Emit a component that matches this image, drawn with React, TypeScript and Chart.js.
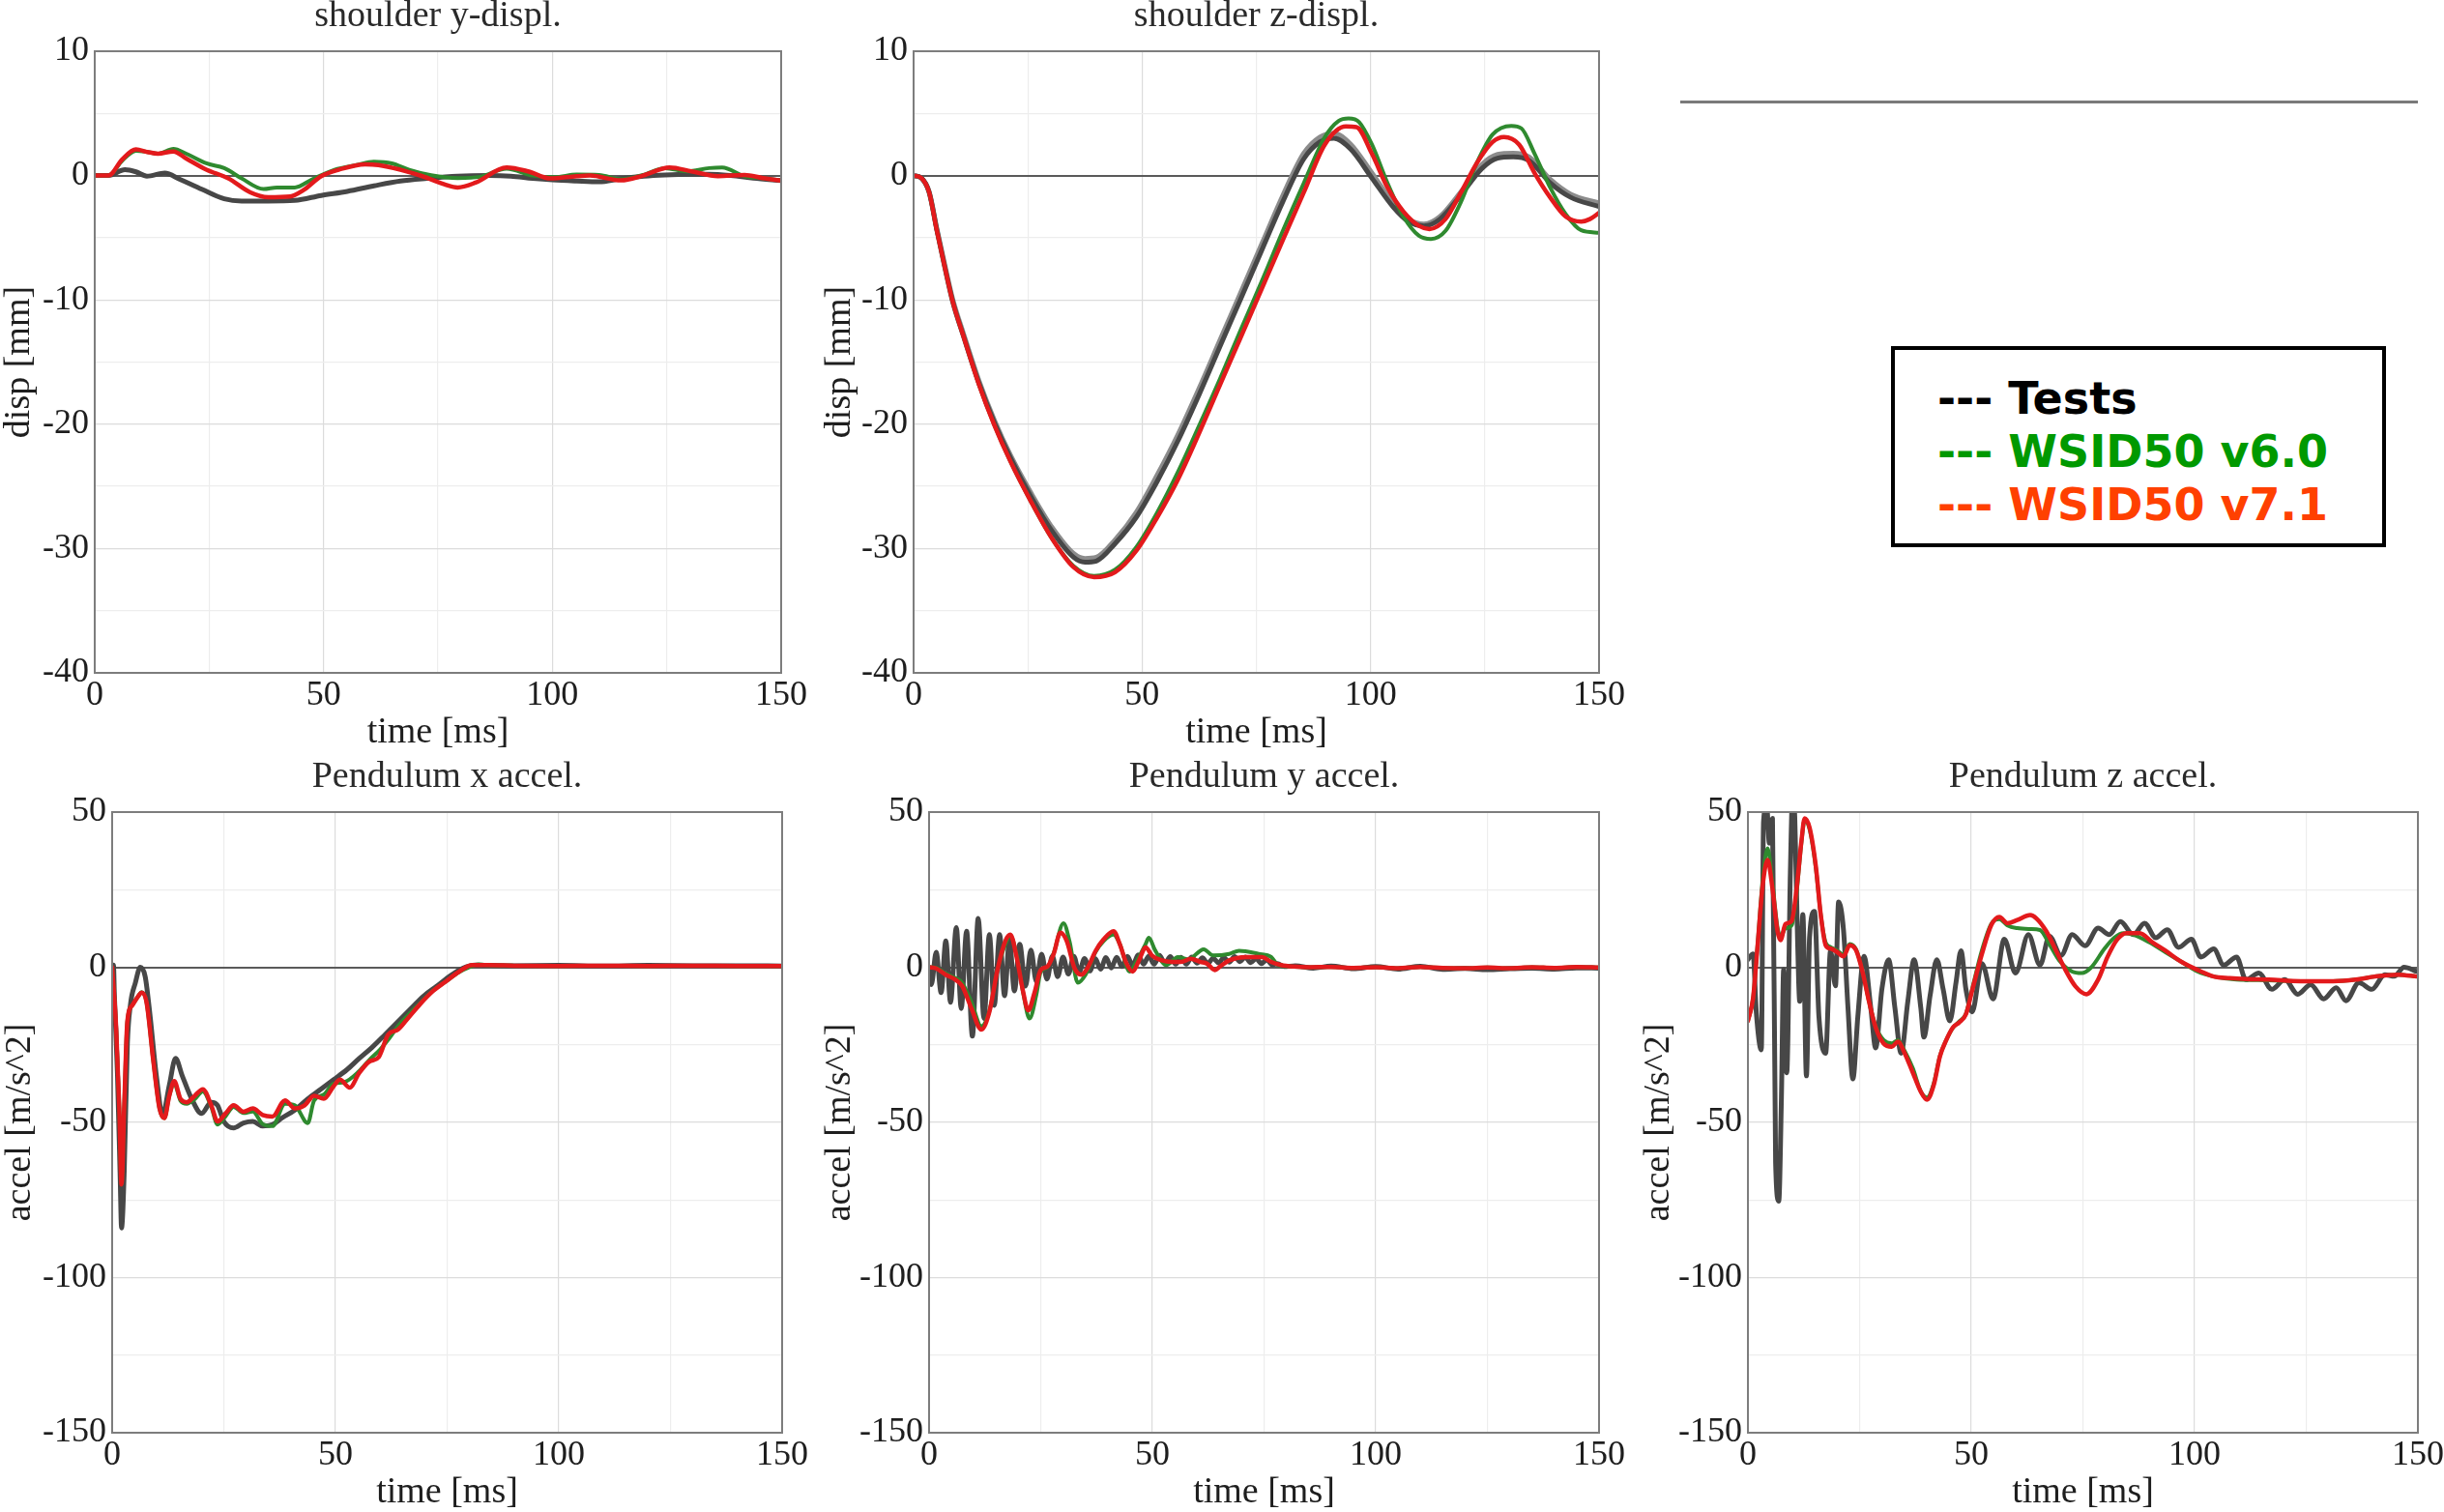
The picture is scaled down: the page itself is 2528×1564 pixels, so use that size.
import React, { useEffect, useRef } from 'react';
import { Chart, registerables } from 'chart.js';

Chart.register(...registerables);

type Pt = [number, number];

// ---------- axis / label data ----------
const X_MIN = 0;
const X_MAX = 150;
const X_STEP = 25;
const X_LABEL_STEP = 50;
const X_TITLE = 'time [ms]';

const LEGEND_LABELS = ['Tests', 'WSID50 v6.0', 'WSID50 v7.1'];
const LEGEND_COLORS = ['#000000', '#009900', '#ff4000'];

// ---------- shoulder y-displ. ----------
const P1_TESTS: Pt[] = [[0,0],[3,0],[6.6,0.47],[9,0.3],[11.4,-0.05],[15.3,0.2],[18.6,-0.3],[23.4,-1.1],[28.3,-1.87],[32.1,-2.05],[37.9,-2.05],[43.7,-2.0],[49.5,-1.6],[55.2,-1.27],[61,-0.83],[66.8,-0.44],[72.6,-0.23],[79.3,-0.05],[86,0],[90.9,-0.05],[95.7,-0.23],[100,-0.35],[105.3,-0.44],[110.2,-0.5],[115,-0.25],[120,-0.05],[124.6,0.05],[130,0.1],[134.3,0.1],[139,0],[143.9,-0.2],[150,-0.4]];
const P1_V60: Pt[] = [[0,0],[3,0],[6,1.2],[9,2.0],[11.5,1.9],[13.8,1.76],[17.2,2.15],[20,1.76],[24.4,0.98],[28.3,0.6],[32.1,-0.23],[36.9,-1.09],[39.8,-0.96],[43.7,-0.96],[47.5,-0.31],[52.4,0.47],[57.2,0.85],[61,1.11],[64.9,0.98],[68.7,0.47],[73.5,0.03],[79.3,-0.2],[84.2,-0.1],[90,0.55],[95.7,0],[100.5,-0.13],[105.3,0.08],[110.2,0.05],[115,-0.3],[119.8,0.05],[124.6,0.6],[129.4,0.34],[134.3,0.6],[137.1,0.65],[142,-0.05],[146,-0.2],[150,-0.4]];
const P1_V71: Pt[] = [[0,0],[3,0],[6,1.3],[9,2.1],[11.5,1.9],[13.8,1.76],[17.2,1.94],[20,1.37],[24.4,0.47],[29.2,-0.23],[34,-1.35],[37.9,-1.74],[42.7,-1.68],[45.6,-1.17],[49.5,-0.05],[53.3,0.47],[59.1,0.91],[62,0.85],[66.8,0.47],[71.6,-0.05],[76.4,-0.7],[79.3,-0.96],[83.2,-0.57],[90,0.65],[94.7,0.34],[99.6,-0.23],[105.3,-0.05],[108.2,0],[115,-0.39],[119.8,0],[125.6,0.65],[130.4,0.34],[136.2,-0.05],[142,0.05],[146,-0.2],[150,-0.4]];

// ---------- shoulder z-displ. ----------
const P2_TEST_A: Pt[] = [[0,0],[1.7,-0.2],[3.4,-1.35],[5.1,-4.4],[6.9,-7.5],[8.6,-10.2],[10.9,-12.9],[14.3,-16.7],[17.7,-19.9],[21.2,-22.7],[25.8,-25.9],[30.3,-28.6],[35,-30.7],[37.5,-31.1],[40,-31.0],[44.1,-29.6],[48.7,-27.5],[53.3,-24.6],[57.9,-21.3],[62.5,-17.6],[67.1,-13.7],[71.6,-9.9],[76.2,-6.0],[80.8,-2.1],[85.4,1.35],[88.9,2.7],[92,3.0],[95.7,2.1],[100.3,-0.2],[104.9,-2.5],[108.3,-3.7],[111.7,-4.05],[115.2,-3.5],[119.8,-1.55],[124.4,0.58],[127.8,1.4],[131.2,1.5],[134.7,1.2],[139.3,-0.58],[143.8,-1.75],[150,-2.5]];
const P2_TEST_B: Pt[] = [[0,0],[1.7,-0.2],[3.4,-1.3],[5.1,-4.3],[6.9,-7.3],[8.6,-10.0],[10.9,-12.7],[14.3,-16.5],[17.7,-19.7],[21.2,-22.5],[25.8,-25.6],[30.3,-28.3],[35,-30.4],[37.5,-30.8],[40,-30.7],[44.1,-29.3],[48.7,-27.1],[53.3,-24.1],[57.9,-20.8],[62.5,-17.1],[67.1,-13.2],[71.6,-9.4],[76.2,-5.5],[80.8,-1.6],[85.4,1.8],[88.9,3.1],[92,3.4],[95.7,2.5],[100.3,0.2],[104.9,-2.2],[108.3,-3.5],[111.7,-3.9],[115.2,-3.3],[119.8,-1.3],[124.4,0.9],[127.8,1.7],[131.2,1.8],[134.7,1.5],[139.3,-0.3],[143.8,-1.5],[150,-2.2]];
const P2_V60: Pt[] = [[0,0],[1.7,-0.2],[3.4,-1.35],[5.1,-4.45],[6.9,-7.5],[8.6,-10.2],[10.9,-12.9],[14.3,-16.8],[17.7,-20.1],[21.2,-23.0],[25.8,-26.3],[30.3,-29.2],[35,-31.4],[39.5,-32.2],[44.1,-31.7],[48.7,-29.9],[53.3,-27.1],[57.9,-23.8],[62.5,-20.1],[67.1,-16.3],[71.6,-12.4],[76.2,-8.5],[80.8,-4.45],[85.4,-0.6],[90,3.1],[93,4.4],[95.2,4.6],[97.5,4.3],[100.3,2.5],[103.7,-0.6],[107.2,-3.3],[110.6,-4.85],[113.2,-5.1],[116.4,-4.45],[119.8,-2.1],[123.2,0.97],[126.7,3.3],[130.8,4.0],[133,3.8],[135.9,1.75],[139.3,-0.96],[142.7,-3.1],[146.1,-4.4],[150,-4.6]];
const P2_V71: Pt[] = [[0,0],[1.7,-0.2],[3.4,-1.35],[5.1,-4.45],[6.9,-7.5],[8.6,-10.2],[10.9,-12.9],[14.3,-16.8],[17.7,-20.1],[21.2,-23.0],[25.8,-26.3],[30.3,-29.2],[35,-31.5],[39.5,-32.3],[44.1,-31.9],[48.7,-30.2],[53.3,-27.5],[57.9,-24.4],[62.5,-20.7],[67.1,-16.8],[71.6,-13],[76.2,-9.1],[80.8,-5.2],[85.4,-1.35],[90,2.5],[94.6,3.95],[96.9,3.9],[100.3,1.75],[103.7,-0.96],[107.2,-2.9],[110.6,-4.05],[112.9,-4.3],[116.4,-3.5],[119.8,-1.35],[123.2,0.97],[126.7,2.7],[129.2,3.1],[132.5,2.5],[135.9,0.2],[139.3,-1.75],[142.7,-3.3],[146.1,-3.7],[148,-3.5],[150,-3.0]];

// ---------- Pendulum x accel. ----------
const P4_TESTS: Pt[] = [[0,0],[0.3,0.7],[0.5,-9],[1.2,-35],[1.8,-68],[2.1,-84],[2.7,-66],[3.4,-25],[4.1,-12],[5.2,-5],[6.3,0],[7.4,-3],[8.4,-14.4],[9.9,-35],[11.3,-47.6],[12.8,-38],[14.2,-29.4],[15.7,-35],[17.8,-42.4],[20.0,-47.1],[22.2,-43.5],[23.6,-44.5],[25.0,-49.7],[27.2,-51.8],[29.4,-50.2],[31.5,-49.7],[33.7,-51.2],[35.9,-50.7],[38.0,-48.6],[40.9,-46.0],[43.8,-42.4],[46.7,-39.3],[49.6,-36.2],[52.5,-33.1],[55.3,-29.4],[58.2,-25.8],[61.1,-21.7],[64.0,-17.5],[66.9,-13.3],[69.8,-9.2],[72.7,-6.1],[75.5,-3.0],[78.4,-0.4],[81.3,0.7],[85,0.6],[90,0.5],[100,0.6],[110,0.4],[120,0.6],[130,0.5],[140,0.5],[150,0.4]];
const P4_V60: Pt[] = [[0,0],[0.9,-19.6],[1.6,-45.5],[2.1,-70],[2.7,-45],[3.4,-17.5],[4.5,-12.3],[5.9,-9.2],[6.6,-8.0],[7.7,-11.3],[9.2,-30],[10.6,-45.5],[11.7,-48.6],[12.8,-41.4],[13.9,-37.5],[15.3,-43],[16.7,-44],[18.5,-42.5],[20.3,-40],[22.2,-45],[23.6,-50.7],[25.4,-48],[27.2,-45],[29.4,-47],[31.5,-46.5],[33.7,-50.5],[35.9,-51.2],[38.7,-44],[40.9,-44.5],[43.8,-50.2],[45.2,-43],[47.4,-41],[49.6,-37.5],[52,-37],[55.3,-33.5],[57.5,-30],[60,-26.5],[62,-23],[64,-19],[66.2,-15.5],[69,-11.5],[71.9,-7.5],[74.8,-4.5],[77.7,-1.6],[80,0],[82,0.9],[84.2,0.7],[90,0.5],[100,0.4],[110,0.5],[120,0.4],[130,0.5],[140,0.4],[150,0.4]];
const P4_V71: Pt[] = [[0,0],[0.9,-19.6],[1.6,-45.5],[2.1,-70],[2.7,-45],[3.4,-17.5],[4.5,-12.3],[5.9,-9.2],[6.6,-8.2],[7.7,-11.3],[9.2,-30],[10.6,-45.5],[11.7,-48.6],[12.8,-41.4],[13.9,-36.7],[15.3,-42.4],[16.7,-43.5],[18.5,-41.4],[20.3,-39.3],[22.2,-44.5],[23.6,-49.7],[25.4,-47.1],[27.2,-44.5],[29.4,-46.6],[31.5,-45.5],[33.7,-47.6],[35.9,-48.1],[38.7,-42.9],[40.9,-45.5],[43.1,-44.5],[45.2,-41.4],[47.4,-42.4],[49.6,-38.3],[51.0,-36.2],[53.2,-38.8],[55.3,-34.1],[57.5,-30.5],[59.7,-28.9],[61.8,-21.7],[64.0,-20.1],[66.2,-16.5],[69.0,-11.8],[71.9,-7.6],[74.8,-4.5],[77.7,-1.4],[80.6,0.7],[84.2,0.7],[90,0.5],[100,0.4],[110,0.5],[120,0.4],[130,0.5],[140,0.4],[150,0.4]];

// ---------- Pendulum y accel. ----------
const P5_TESTS: Pt[] = [[0,0],[0.5,-5.6],[1.6,4.8],[2.7,-8.2],[3.75,8.5],[4.8,-11.3],[6.1,12.8],[7.2,-13.3],[8.4,11.6],[9.7,-22.2],[11.0,15.7],[12.3,-16.5],[13.5,10.5],[14.6,-12.3],[15.8,10.5],[16.9,-9.2],[18.0,9.0],[19.1,-7.6],[20.3,7.4],[21.6,-6.1],[22.8,5.5],[24.0,-4.5],[25.2,4.2],[26.4,-3.8],[27.6,3.6],[28.8,-3.0],[30.0,3.3],[31.2,-2.2],[32.4,3.5],[33.6,-1.6],[34.8,2.8],[36.0,-1.2],[37.2,2.8],[38.4,-0.6],[39.6,3.1],[40.8,-0.2],[42.0,3.2],[43.2,0.2],[44.4,3.5],[45.6,0.5],[46.8,4.0],[48.0,1.0],[49.2,3.6],[50.4,1.0],[51.6,3.8],[52.8,1.2],[54.0,3.4],[55.2,1.0],[56.4,3.2],[57.6,1.0],[58.8,3.3],[60.0,1.3],[61.2,3.0],[62.4,1.2],[63.6,2.9],[64.8,1.4],[66.0,3.1],[67.2,1.6],[68.4,3.4],[69.6,1.8],[70.8,3.3],[72.0,1.5],[73.2,2.8],[74.4,1.2],[75.6,2.4],[76.8,0.8],[78,1.2],[79.5,0.2],[82,0.5],[86,-0.3],[90,0.4],[95,-0.5],[100,0.2],[105,-0.6],[110,0.3],[115,-0.7],[120,-0.4],[125,-0.8],[130,-0.5],[135,-0.3],[140,-0.6],[145,-0.2],[150,-0.3]];
const P5_V60: Pt[] = [[0,0],[1.6,-0.2],[3.75,-2],[5.9,-3.5],[7.4,-5],[9.5,-11.3],[11.7,-19],[13.5,-14],[15.3,-1],[17.1,7.5],[18.2,10],[19.6,4],[21.1,-8.5],[22.5,-16.5],[24,-9],[25.0,-1.5],[26.5,0],[27.9,4.5],[30.1,14.2],[31.5,8],[33.3,-5],[35.0,-2.5],[37.3,5],[39.1,8.5],[41.3,10.5],[42.7,7.5],[44.9,-1.4],[46.3,1.5],[48.5,7.5],[49.2,9.5],[50.6,5.5],[53.1,0.7],[55.7,3.3],[58,2.5],[61.5,5.8],[63.6,3.8],[67.2,4.3],[69.4,5.3],[73.8,4.3],[76.6,3.3],[78.1,0.7],[80,0.3],[85,0],[90,0.1],[95,-0.2],[100,0],[105,-0.3],[110,0.1],[115,-0.2],[120,-0.3],[125,-0.1],[130,-0.3],[135,0],[140,-0.2],[145,0.1],[150,-0.1]];
const P5_V71: Pt[] = [[0,0],[1.6,-0.4],[3.75,-2.4],[5.9,-4],[7.4,-6],[9.5,-13.3],[11.7,-20.1],[13.5,-14.4],[15.3,-0.9],[17.1,8.5],[18.2,10.5],[19.6,3.3],[21.1,-8.2],[22.2,-13.9],[23.6,-8.2],[25.0,-0.9],[26.5,0.2],[27.9,4.3],[29.4,11.1],[30.8,8.5],[32.6,-0.4],[34.1,-2.4],[35.5,-0.2],[37.3,5.3],[39.1,9.0],[41.3,11.6],[42.7,7.4],[44.2,1.2],[45.6,-1.4],[47.0,2.2],[48.5,6.4],[49.9,3.8],[52.1,2.2],[54.3,1.7],[56.4,1.7],[58.6,2.7],[60.8,1.7],[62.2,1.2],[64.0,-0.9],[65.1,0.2],[67.2,2.2],[70.9,3.3],[74.5,3.3],[76.6,1.7],[78.8,0.7],[81.7,0.2],[85.3,0],[90,0.1],[95,-0.2],[100,0],[105,-0.3],[110,0.1],[115,-0.2],[120,-0.3],[125,-0.1],[130,-0.3],[135,0],[140,-0.2],[145,0.1],[150,-0.1]];

// ---------- Pendulum z accel. ----------
const P6_TESTS: Pt[] = [[0,2.5],[1.15,4.3],[1.9,-15],[3.0,-26.6],[3.5,47],[4.2,52],[4.8,40],[5.5,48],[6.2,-63],[6.9,-75.4],[7.5,-42],[8.0,-0.7],[8.7,-34],[9.5,30.5],[10.0,55],[10.5,48],[11.1,9.7],[11.6,-11],[12.3,17],[13.1,-35],[13.8,9.7],[14.9,18],[15.9,-16],[17.4,-27.7],[18.5,5.3],[19.6,-6],[20.3,21],[21.4,12],[22.4,-13],[23.5,-36],[24.6,-16],[26.0,3.5],[27.5,-13],[28.6,-26],[30.0,-7],[31.5,2.4],[32.9,-13],[34.3,-27.7],[35.8,-11],[37.2,2.4],[38.7,-13],[39.4,-22.5],[40.8,-9],[42.3,2.4],[43.7,-7],[45.2,-17.3],[46.6,-4.8],[47.7,5.3],[48.8,-7],[50.2,-14.4],[52.4,1.2],[54.9,-10.2],[57.4,9],[59.9,-1.9],[62.8,10.5],[65.4,0.7],[67.5,10],[70.1,3.8],[72.6,10.5],[75.5,6.9],[78.4,12.6],[80.9,10.5],[83.4,14.7],[86.3,10.5],[88.8,14.2],[91.3,9.5],[93.9,12.1],[96.4,6.4],[99.3,9],[101.4,3.3],[104.3,5.9],[106.5,0.7],[109.4,3.3],[111.5,-4],[114.4,-1.9],[117.3,-7.1],[120.2,-4],[123.1,-8.7],[126,-5.6],[128.9,-10.2],[131.7,-6.6],[133.9,-10.8],[136.8,-5],[139.7,-7.1],[142.6,-2.4],[144.7,-2.9],[146.9,0],[149.8,-1.4]];
const P6_V60: Pt[] = [[0,-17.3],[1.15,-10],[2.2,8],[3.3,28],[4.4,38.3],[5.5,27],[6.6,13],[7.3,10],[8.4,12.5],[9.8,13.5],[10.9,24],[12.0,40.5],[12.7,47.5],[13.8,44.5],[15.2,32],[16.3,17],[17.4,8],[18.5,6.5],[19.9,5.5],[21.4,4],[22.8,7.5],[24.2,5.8],[25.7,-1.5],[27.1,-11],[28.6,-19],[30.4,-23.5],[32.2,-24.5],[33.6,-23.5],[35.1,-27],[36.9,-32.5],[38.7,-40],[40.1,-42],[41.6,-37.5],[43.0,-28.5],[44.4,-23.5],[45.9,-19.5],[47.3,-17.5],[48.8,-15],[50.2,-7],[52.4,5.5],[54.5,14],[56.3,15.5],[58.1,13.5],[60.3,12.6],[63.2,12.3],[65.4,12],[67.5,7.4],[69.7,2.2],[72.6,-1.4],[74.7,-1.9],[76.9,0],[79.8,5.9],[82,9.5],[84.1,11],[86.3,10.5],[89.9,8],[93.5,4.8],[97.1,1.7],[100.7,-1.4],[104.3,-3],[109.4,-4],[116.6,-4.2],[123.8,-4.5],[131,-4.5],[136.1,-4],[140.4,-3],[145.5,-2.4],[149.8,-3]];
const P6_V71: Pt[] = [[0,-17.3],[1.15,-10],[2.2,7.6],[3.3,26.3],[4.4,34.6],[5.5,25.3],[6.6,11.8],[7.3,8.7],[8.4,13.9],[9.8,14.9],[10.9,25.3],[12.0,40.9],[12.7,48],[13.8,45],[15.2,32.6],[16.3,17],[17.4,7.1],[18.5,6],[19.9,5],[21.4,3.5],[22.8,7.1],[24.2,5.5],[25.7,-1.7],[27.1,-11],[28.6,-19.4],[30.4,-24.6],[32.2,-25.6],[33.6,-24],[35.1,-27.7],[36.9,-33.9],[38.7,-40.1],[40.1,-42.7],[41.6,-38],[43.0,-28.7],[44.4,-23.5],[45.9,-19.4],[47.3,-17.8],[48.8,-15.2],[50.2,-7.5],[52.4,4.3],[54.5,13.6],[56.3,16.2],[58.1,14.2],[60.3,15.2],[63.2,16.8],[64.6,15.7],[66.8,11.6],[69,5.3],[71.1,-0.9],[73.3,-6.1],[75.8,-8.7],[78.4,-4],[80.5,3.3],[82.7,9],[84.8,11],[87.7,11],[90.6,8],[93.5,5.3],[97.1,1.7],[100.7,-0.9],[104.3,-3],[107.9,-3.5],[111.5,-3.8],[116.6,-4],[123.8,-4.5],[131,-4.5],[136.1,-4],[140.4,-3],[145.5,-2.4],[149.8,-3]];

// ---------- styling / layout (not data) ----------
const SERIF = '"Liberation Serif", "Times New Roman", serif';
const COL_TEST = '#474747';
const COL_TEST_LIGHT = '#8c8c8c';
const COL_V60 = '#2f8a2f';
const COL_V71 = '#e31a1c';
const TITLE_H = 55;
const XAXIS_H = 81;
const RIGHT_PAD = 32;

interface PanelSpec {
  title: string;
  yTitle: string;
  yMin: number;
  yMax: number;
  yStep: number;
  yLabelStep: number;
  tests: Pt[][];
  v60: Pt[];
  v71: Pt[];
  plot: { l: number; t: number; r: number; b: number };
  canvasLeft: number;
  yTitlePad: number;
}

const PANELS: PanelSpec[] = [
  { title: 'shoulder y-displ.', yTitle: 'disp [mm]', yMin: -40, yMax: 10, yStep: 5, yLabelStep: 10,
    tests: [P1_TESTS], v60: P1_V60, v71: P1_V71,
    plot: { l: 98, t: 53, r: 808, b: 696 }, canvasLeft: 0, yTitlePad: 1 },
  { title: 'shoulder z-displ.', yTitle: 'disp [mm]', yMin: -40, yMax: 10, yStep: 5, yLabelStep: 10,
    tests: [P2_TEST_A, P2_TEST_B], v60: P2_V60, v71: P2_V71,
    plot: { l: 945, t: 53, r: 1654, b: 696 }, canvasLeft: 850, yTitlePad: 0 },
  { title: 'Pendulum x accel.', yTitle: 'accel [m/s^2]', yMin: -150, yMax: 50, yStep: 25, yLabelStep: 50,
    tests: [P4_TESTS], v60: P4_V60, v71: P4_V71,
    plot: { l: 116, t: 840, r: 809, b: 1482 }, canvasLeft: 0, yTitlePad: 2 },
  { title: 'Pendulum y accel.', yTitle: 'accel [m/s^2]', yMin: -150, yMax: 50, yStep: 25, yLabelStep: 50,
    tests: [P5_TESTS], v60: P5_V60, v71: P5_V71,
    plot: { l: 961, t: 840, r: 1654, b: 1482 }, canvasLeft: 850, yTitlePad: 0 },
  { title: 'Pendulum z accel.', yTitle: 'accel [m/s^2]', yMin: -150, yMax: 50, yStep: 25, yLabelStep: 50,
    tests: [P6_TESTS], v60: P6_V60, v71: P6_V71,
    plot: { l: 1808, t: 840, r: 2501, b: 1482 }, canvasLeft: 1697, yTitlePad: 0 },
];

const framePlugin = {
  id: 'frame',
  afterDraw(chart: any) {
    const { ctx, chartArea } = chart;
    ctx.save();
    ctx.strokeStyle = '#7d7d7d';
    ctx.lineWidth = 2;
    ctx.strokeRect(chartArea.left, chartArea.top, chartArea.right - chartArea.left, chartArea.bottom - chartArea.top);
    ctx.restore();
  },
};

const toXY = (pts: Pt[]) => pts.map(([x, y]) => ({ x, y }));

function Panel({ spec }: { spec: PanelSpec }) {
  const ref = useRef<HTMLCanvasElement>(null);
  const yAxisW = spec.plot.l - spec.canvasLeft;
  const width = spec.plot.r - spec.canvasLeft + RIGHT_PAD;
  const height = TITLE_H + (spec.plot.b - spec.plot.t) + XAXIS_H;
  const top = spec.plot.t - TITLE_H;

  useEffect(() => {
    if (!ref.current) return;
    const tickFont = { family: SERIF, size: 36, lineHeight: 1, weight: 'normal' };
    const titleFont = { family: SERIF, size: 38, lineHeight: 1, weight: 'normal' };
    const datasets: any[] = [
      { label: 'WSID50 v7.1', data: toXY(spec.v71), borderColor: COL_V71, borderWidth: 4.5, order: 0 },
      { label: 'WSID50 v6.0', data: toXY(spec.v60), borderColor: COL_V60, borderWidth: 4, order: 1 },
      ...spec.tests.map((s, i) => ({
        label: 'Tests',
        data: toXY(s),
        borderColor: i === 0 ? COL_TEST : COL_TEST_LIGHT,
        borderWidth: 5,
        order: 2 + i,
      })),
    ].map((d) => ({ ...d, fill: false, pointRadius: 0, clip: 0, cubicInterpolationMode: 'monotone', borderJoinStyle: 'round', borderCapStyle: 'round' }));

    const chart = new Chart(ref.current, {
      type: 'line',
      data: { datasets },
      options: {
        responsive: false,
        animation: false,
        devicePixelRatio: 1,
        events: [],
        layout: { padding: { left: 0, right: RIGHT_PAD, top: 0, bottom: 0 } },
        plugins: {
          legend: { display: false },
          tooltip: { enabled: false },
          title: {
            display: true,
            text: spec.title,
            fullSize: false,
            font: titleFont,
            color: '#2a2a2a',
            padding: { top: 0, bottom: 17 },
          },
        },
        scales: {
          x: {
            type: 'linear',
            min: X_MIN,
            max: X_MAX,
            ticks: {
              stepSize: X_STEP,
              autoSkip: false,
              maxRotation: 0,
              padding: 6,
              font: tickFont,
              color: '#1e1e1e',
              callback: (v: any) => (Math.abs(Number(v) % X_LABEL_STEP) < 1e-9 ? String(v) : ''),
            },
            grid: {
              drawTicks: false,
              color: (c: any) => (c.tick && Math.abs(c.tick.value % X_LABEL_STEP) < 1e-9 ? '#dcdcdc' : '#ededed'),
              lineWidth: 1.2,
            },
            border: { display: false },
            title: { display: true, text: X_TITLE, font: titleFont, color: '#1e1e1e', padding: 0 },
            afterFit: (s: any) => {
              s.height = XAXIS_H;
              s.paddingLeft = 0;
              s.paddingRight = 0;
            },
          },
          y: {
            type: 'linear',
            min: spec.yMin,
            max: spec.yMax,
            ticks: {
              stepSize: spec.yStep,
              autoSkip: false,
              padding: 6,
              font: tickFont,
              color: '#1e1e1e',
              callback: (v: any) => (Math.abs(Number(v) % spec.yLabelStep) < 1e-9 ? String(v) : ''),
            },
            grid: {
              drawTicks: false,
              color: (c: any) => {
                const v = c.tick ? c.tick.value : 1;
                if (v === 0) return '#5a5a5a';
                return Math.abs(v % spec.yLabelStep) < 1e-9 ? '#dcdcdc' : '#ededed';
              },
              lineWidth: (c: any) => (c.tick && c.tick.value === 0 ? 2 : 1.2),
            },
            border: { display: false },
            title: { display: true, text: spec.yTitle, font: titleFont, color: '#1e1e1e', padding: { top: spec.yTitlePad, bottom: 0 } },
            afterFit: (s: any) => {
              s.width = yAxisW;
              s.paddingTop = 0;
              s.paddingBottom = 0;
            },
          },
        },
      } as any,
      plugins: [framePlugin],
    });
    return () => chart.destroy();
  }, []);

  return (
    <div style={{ position: 'absolute', left: spec.canvasLeft, top, width, height }}>
      <canvas ref={ref} width={width} height={height} style={{ display: 'block', width, height }} />
    </div>
  );
}

export default function App() {
  return (
    <div style={{ position: 'fixed', left: 0, top: 0, width: 2528, height: 1564, overflow: 'hidden', background: '#ffffff' }}>
      {PANELS.map((p, i) => (
        <Panel key={i} spec={p} />
      ))}
      <div style={{ position: 'absolute', left: 1738, top: 104, width: 763, height: 3, background: '#7a7a7a' }} />
      <div
        style={{
          position: 'absolute',
          left: 1956,
          top: 358,
          width: 512,
          height: 208,
          border: '4px solid #000',
          boxSizing: 'border-box',
          background: '#fff',
          fontFamily: '"DejaVu Sans", Verdana, sans-serif',
          fontWeight: 'bold',
          fontSize: 46,
          lineHeight: '55px',
        }}
      >
        <div style={{ position: 'absolute', left: 44, top: 23, whiteSpace: 'pre' }}>
          {LEGEND_LABELS.map((l, i) => (
            <div key={l} style={{ color: LEGEND_COLORS[i] }}>{'--- ' + l}</div>
          ))}
        </div>
      </div>
    </div>
  );
}
